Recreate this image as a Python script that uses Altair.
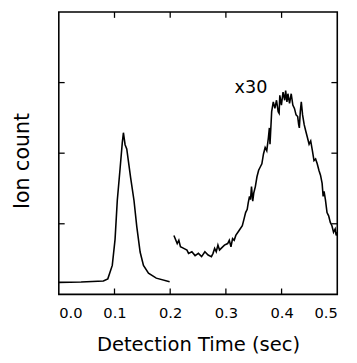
import altair as alt
import pandas as pd

# Peak 1 (unscaled)
t1 = [0.000, 0.040, 0.080, 0.088, 0.096, 0.101, 0.105, 0.110, 0.114, 0.116,
      0.119, 0.122, 0.129, 0.135, 0.140, 0.146, 0.152, 0.161, 0.175, 0.199]
c1 = [0.17, 0.175, 0.19, 0.22, 0.41, 0.78, 1.33, 1.78, 2.15, 2.29,
      2.12, 2.06, 1.65, 1.33, 0.96, 0.60, 0.41, 0.30, 0.23, 0.18]

# Slow component (x30)
t2 = [0.2067, 0.2126, 0.2155, 0.2184, 0.2243, 0.2301, 0.2330, 0.2389, 0.2447, 0.2506,
      0.2564, 0.2623, 0.2681, 0.2740, 0.2769, 0.2798, 0.2827, 0.2857, 0.2886, 0.2915,
      0.2974, 0.3032, 0.3061, 0.3091, 0.3120, 0.3149, 0.3178, 0.3237, 0.3295, 0.3325,
      0.3354, 0.3383, 0.3401, 0.3424, 0.3442, 0.3460, 0.3482, 0.3500, 0.3529, 0.3558,
      0.3588, 0.3617, 0.3646, 0.3675, 0.3705, 0.3734, 0.3763, 0.3781, 0.3792, 0.3822,
      0.3851, 0.3880, 0.3909, 0.3939, 0.3956, 0.3968, 0.3997, 0.4026, 0.4056, 0.4073,
      0.4096, 0.4114, 0.4143, 0.4173, 0.4202, 0.4231, 0.4260, 0.4289, 0.4307, 0.4319,
      0.4336, 0.4354, 0.4377, 0.4406, 0.4435, 0.4465, 0.4494, 0.4523, 0.4553, 0.4582,
      0.4611, 0.4640, 0.4670, 0.4699, 0.4728, 0.4746, 0.4763, 0.4787, 0.4816, 0.4845,
      0.4875, 0.4904, 0.4933, 0.4962, 0.4980, 0.5000]
c2 = [0.835, 0.720, 0.766, 0.674, 0.651, 0.627, 0.581, 0.604, 0.549, 0.581,
      0.535, 0.604, 0.558, 0.535, 0.581, 0.651, 0.604, 0.697, 0.627, 0.651,
      0.697, 0.720, 0.766, 0.674, 0.789, 0.766, 0.835, 0.904, 0.973, 1.066,
      1.158, 1.204, 1.296, 1.389, 1.343, 1.527, 1.319, 1.435, 1.527, 1.666,
      1.758, 1.804, 1.850, 1.989, 2.081, 2.035, 2.219, 2.358, 2.127, 2.588,
      2.727, 2.634, 2.750, 2.588, 2.565, 2.819, 2.681, 2.865, 2.750, 2.888,
      2.727, 2.842, 2.704, 2.842, 2.681, 2.634, 2.542, 2.519, 2.404, 2.358,
      2.588, 2.727, 2.542, 2.404, 2.311, 2.219, 2.127, 2.173, 2.035, 1.896,
      1.919, 1.850, 1.758, 1.689, 1.573, 1.389, 1.458, 1.343, 1.158, 1.112,
      1.020, 0.973, 0.881, 0.927, 0.835, 0.880]

x_ticks = [0.1, 0.2, 0.3, 0.4]
y_ticks = [1, 2, 3]
x_labels = [0.0, 0.1, 0.2, 0.3, 0.4, 0.5]

note_text = ["x30"]
note_x = [0.345]
note_y = [2.92]

W, H = 285, 289
FONT = "DejaVu Sans"

df1 = pd.DataFrame({"t": t1, "c": c1, "s": "a"})
df2 = pd.DataFrame({"t": t2, "c": c2, "s": "b"})
df = pd.concat([df1, df2])

xs = alt.Scale(domain=[0, 0.5], nice=False)
ys = alt.Scale(domain=[0, 4], nice=False)

xaxis = alt.Axis(values=x_labels, format=".1f", domain=False, ticks=False, grid=False,
                 labelFont=FONT, labelFontSize=15, labelColor="black", labelPadding=12,
                 title="Detection Time (sec)", titleFont=FONT, titleFontSize=20,
                 titleFontWeight="normal", titleColor="black", titlePadding=14)
yaxis = alt.Axis(values=y_ticks, labels=False, domain=False, ticks=False, grid=False,
                 title="Ion count", titleFont=FONT, titleFontSize=21,
                 titleFontWeight="normal", titleColor="black", titlePadding=27,
                 titleY=152)

lines = alt.Chart(df).mark_line(color="black", strokeWidth=1.6).encode(
    x=alt.X("t:Q", scale=xs, axis=xaxis),
    y=alt.Y("c:Q", scale=ys, axis=yaxis),
    detail="s:N",
)

xt = pd.DataFrame({"t": x_ticks})
yt = pd.DataFrame({"c": y_ticks})

bt = alt.Chart(xt).mark_rule(color="black", strokeWidth=1.3).encode(
    x=alt.X("t:Q", scale=xs), y=alt.value(H), y2=alt.value(H - 6))
tt = alt.Chart(xt).mark_rule(color="black", strokeWidth=1.3).encode(
    x=alt.X("t:Q", scale=xs), y=alt.value(0), y2=alt.value(6))
lt = alt.Chart(yt).mark_rule(color="black", strokeWidth=1.3).encode(
    y=alt.Y("c:Q", scale=ys), x=alt.value(0), x2=alt.value(6))
rt = alt.Chart(yt).mark_rule(color="black", strokeWidth=1.3).encode(
    y=alt.Y("c:Q", scale=ys), x=alt.value(W), x2=alt.value(W - 6))

note = alt.Chart(pd.DataFrame({"t": note_x, "c": note_y, "txt": note_text})).mark_text(
    font=FONT, fontSize=18, color="black", align="center", baseline="middle"
).encode(x=alt.X("t:Q", scale=xs), y=alt.Y("c:Q", scale=ys), text="txt:N")

chart = alt.layer(lines, bt, tt, lt, rt, note).properties(
    width=W, height=H,
    background="white",
    autosize=alt.AutoSizeParams(type="none"),
    padding={"left": 52, "top": 0, "right": 12, "bottom": 60},
).configure_view(stroke="black", strokeWidth=1.6)

chart.save("out.html", embed_options={"renderer": "svg", "actions": False})
